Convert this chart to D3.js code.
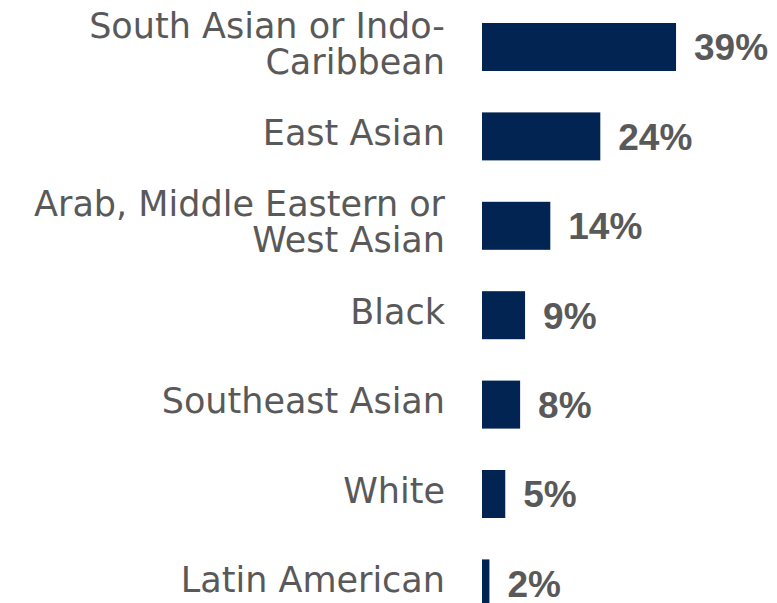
<!DOCTYPE html>
<html>
<head>
<meta charset="utf-8">
<script src="https://cdn.jsdelivr.net/npm/d3@7"></script>
<style>
	html, body { margin: 0; padding: 0; background: #fff; }
	.label { font-family: "DejaVu Sans", "Liberation Sans", sans-serif; fill: #595959; }
	.value { font-family: "Liberation Sans", Arial, sans-serif; font-weight: bold; fill: #595959; }
</style>
</head>
<body>
<div class="container"></div>
<script>
"use strict";

// categories, top to bottom (line breaks as in the picture)
const categories = [
	"South Asian or Indo-\nCaribbean",
	"East Asian",
	"Arab, Middle Eastern or\nWest Asian",
	"Black",
	"Southeast Asian",
	"White",
	"Latin American"
]
// bar lengths (percent)
const values = [39.2, 23.9, 13.8, 8.7, 7.7, 4.7, 1.5]

const p = {
	width: 777,
	height: 603,
	barLeft: 482,
	pxPerUnit: 4.95,
	top: 23,
	step: 89.4,
	barH: 48,
	labelRight: 445,
	labelSize: 35,
	lineGap: 36,
	labelShift: 8.5,
	valueSize: 37,
	valueGap: 18,
	barColor: "#012453"
}

const svg = d3.select('.container')
	.append('svg')
	.attr('width', p.width)
	.attr('height', p.height)

const x = d3.scaleLinear()
	.domain([0, 40])
	.range([p.barLeft, p.barLeft + 40 * p.pxPerUnit])

const padIn = 1 - p.barH / p.step
const y = d3.scaleBand()
	.domain(categories)
	.range([p.top, p.top + (categories.length - padIn) * p.step])
	.paddingInner(padIn)
	.paddingOuter(0)

const fmt = v => d3.format(".0f")(v) + "%"

const rows = svg.selectAll('g.row')
	.data(categories.map((c, i) => ({ cat: c, val: values[i] })))
	.join('g')
	.attr('class', 'row')

rows.append('rect')
	.attr('x', x(0))
	.attr('y', d => y(d.cat))
	.attr('width', d => x(d.val) - x(0))
	.attr('height', y.bandwidth())
	.attr('fill', p.barColor)

//category labels, right aligned, centred on the bar
rows.each(function(d) {
	const lines = d.cat.split("\n")
	const mid = y(d.cat) + y.bandwidth() / 2
	const t = d3.select(this).append('text')
		.attr('class', 'label')
		.attr('text-anchor', 'end')
		.style('font-size', p.labelSize + 'px')
	lines.forEach(function(line, k) {
		t.append('tspan')
			.attr('x', p.labelRight)
			.attr('y', mid + p.labelShift + (k - (lines.length - 1) / 2) * p.lineGap)
			.text(line)
	})
})

//value labels
rows.append('text')
	.attr('class', 'value')
	.attr('x', d => x(d.val) + p.valueGap)
	.attr('y', d => y(d.cat) + y.bandwidth() / 2)
	.attr('dy', '0.36em')
	.style('font-size', p.valueSize + 'px')
	.text(d => fmt(d.val))
</script>
</body>
</html>
